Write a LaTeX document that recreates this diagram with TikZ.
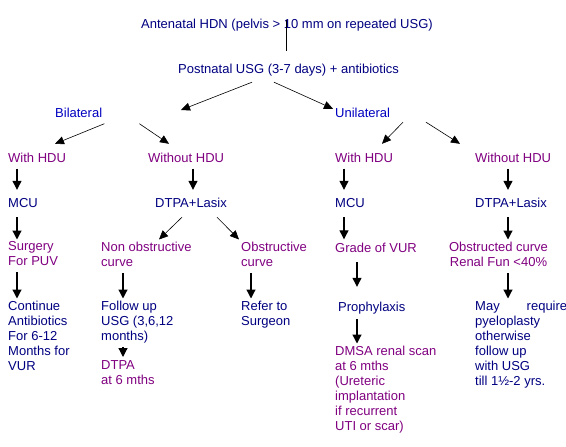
\documentclass[tikz,border=0pt]{standalone}
\usepackage{fontspec}
\setmainfont{Liberation Sans}
\usepackage{xcolor}
\usepackage{tikz}
\usetikzlibrary{arrows.meta}
\definecolor{hdnnavy}{RGB}{0,0,128}
\definecolor{hdnblue}{RGB}{0,0,192}
\definecolor{hdnpurple}{RGB}{128,0,128}
\tikzset{
	txt/.style={anchor=base west,inner sep=2pt,align=left,font=\fontsize{13}{15}\selectfont,
		execute at begin node=\strut,execute at end node=\strut},
	nv/.style={txt,text=hdnnavy},
	pu/.style={txt,text=hdnpurple},
	bl/.style={txt,text=hdnblue},
	ml/.style={anchor=north west},
	fl/.style={line width=1.2pt,-{Triangle[length=9pt,width=9pt]}},
	dg/.style={line width=0.6pt,-{Triangle[length=9pt,width=8pt]}},
}
\begin{document}
\begin{tikzpicture}[x=1pt,y=-1pt]
\useasboundingbox (0,0) rectangle (566,447);
%haut
\node[nv] (T) at (139,28) {Antenatal HDN (pelvis > 10 mm on repeated USG)};
\node[nv] (P) at (176,74) {Postnatal USG (3-7 days) + antibiotics};
\draw[line width=1pt] ([xshift=147pt,yshift=-4.5pt]T.north west) -- ([xshift=110pt,yshift=10.5pt]P.north west);
\node[bl] (B) at (53,117) {Bilateral};
\node[bl] (U) at (333,117) {Unilateral};
\coordinate (Bin) at (181,110);
\draw[dg] ([xshift=76pt,yshift=-1.5pt]P.south west) -- (Bin);
\draw[dg] ([xshift=98pt,yshift=-1.5pt]P.south west) -- ([yshift=-4.5pt]U.north west);

	%branche bilateral
	\node[pu] (WL) at (6,162) {With HDU};
	\node[pu] (OL) at (146,162) {Without HDU};
	\draw[dg] (B.south east) -- ([xshift=49pt,yshift=5.5pt]WL.north west);
	\draw[dg] ([xshift=35pt]B.south east) -- ([xshift=23pt,yshift=5.5pt]OL.north west);
	\node[nv] (ML) at (6,207) {MCU};
	\node[nv] (DL) at (153,207) {DTPA+Lasix};
	\draw[fl] ([xshift=11pt]WL.south west) -- ([xshift=11pt,yshift=4.5pt]ML.north west);
	\draw[fl] ([xshift=47pt]OL.south west) -- ([xshift=40pt,yshift=4.5pt]DL.north west);
	\node[pu,ml] (S) at (6,239.5) {Surgery\\For PUV};
	\node[pu,ml] (N) at (99,239.5) {Non obstructive\\curve};
	\node[pu,ml] (O) at (239,239.5) {Obstructive\\curve};
	\draw[fl] ([xshift=11pt,yshift=-3.5pt]ML.south west) -- ([xshift=11pt]S.north west);
	\draw[dg] ([xshift=29pt,yshift=-3.5pt]DL.south west) -- ([xshift=60pt]N.north west);
	\draw[dg] ([xshift=64pt,yshift=-3.5pt]DL.south west) -- (O.north west);
	\node[nv,ml] (C) at (6,298.5) {Continue\\Antibiotics\\For 6-12\\Months for\\VUR};
	\node[nv,ml] (F) at (99,298.5) {Follow up\\USG (3,6,12\\months)};
	\node[nv,ml] (R) at (239,298.5) {Refer to\\Surgeon};
	\draw[fl] ([xshift=11pt]S.south west) -- ([xshift=11pt]C.north west);
	\draw[fl] ([xshift=24pt]N.south west) -- ([xshift=24pt]F.north west);
	\draw[fl] ([xshift=12pt]O.south west) -- ([xshift=12pt]R.north west);
	\node[pu,ml] (D6) at (99,358.5) {DTPA\\at 6 mths};
	\draw[fl] ([xshift=24pt]F.south west) -- ([xshift=24pt,yshift=1.5pt]D6.north west);

	%branche unilateral
	\node[pu] (WR) at (333,162) {With HDU};
	\node[pu] (OR) at (473,162) {Without HDU};
	\draw[dg] ([xshift=70pt,yshift=1.5pt]U.south west) -- ([xshift=49pt,yshift=5.5pt]WR.north west);
	\draw[dg] ([xshift=93pt,yshift=1.5pt]U.south west) -- ([xshift=-13pt,yshift=5.5pt]OR.north west);
	\node[nv] (MR) at (333,207) {MCU};
	\node[nv] (DR) at (473,207) {DTPA+Lasix};
	\draw[fl] ([xshift=11pt]WR.south west) -- ([xshift=11pt,yshift=4.5pt]MR.north west);
	\draw[fl] ([xshift=35pt]OR.south west) -- ([xshift=35pt,yshift=4.5pt]DR.north west);
	\node[pu] (G) at (333,252) {Grade of VUR};
	\node[pu,anchor=north,align=center] (K) at (498.5,239.5) {Obstructed curve\\Renal Fun <40\%};
	\draw[fl] ([xshift=11pt,yshift=-3.5pt]MR.south west) -- ([xshift=11pt]G.north west);
	\draw[fl] ([xshift=35pt,yshift=-3.5pt]DR.south west) -- ([xshift=9.5pt]K.north);
	\node[nv] (PX) at (336,311) {Prophylaxis};
	\node[nv,ml] (Y) at (473,298.5) {\makebox[92pt][s]{May require}\\pyeloplasty\\otherwise\\follow up\\with USG\\till 1½-2 yrs.};
	\draw[fl] ([xshift=24pt,yshift=-3.5pt]G.south west) -- ([xshift=21pt,yshift=11.5pt]PX.north west);
	\draw[fl] ([xshift=9.5pt]K.south) -- ([xshift=35pt]Y.north west);
	\node[pu,ml] (DM) at (333,343.5) {DMSA renal scan\\at 6 mths\\(Ureteric\\implantation\\if recurrent\\UTI or scar)};
	\draw[fl] ([xshift=21pt,yshift=-1.5pt]PX.south west) -- ([xshift=24pt]DM.north west);
\end{tikzpicture}
\end{document}
